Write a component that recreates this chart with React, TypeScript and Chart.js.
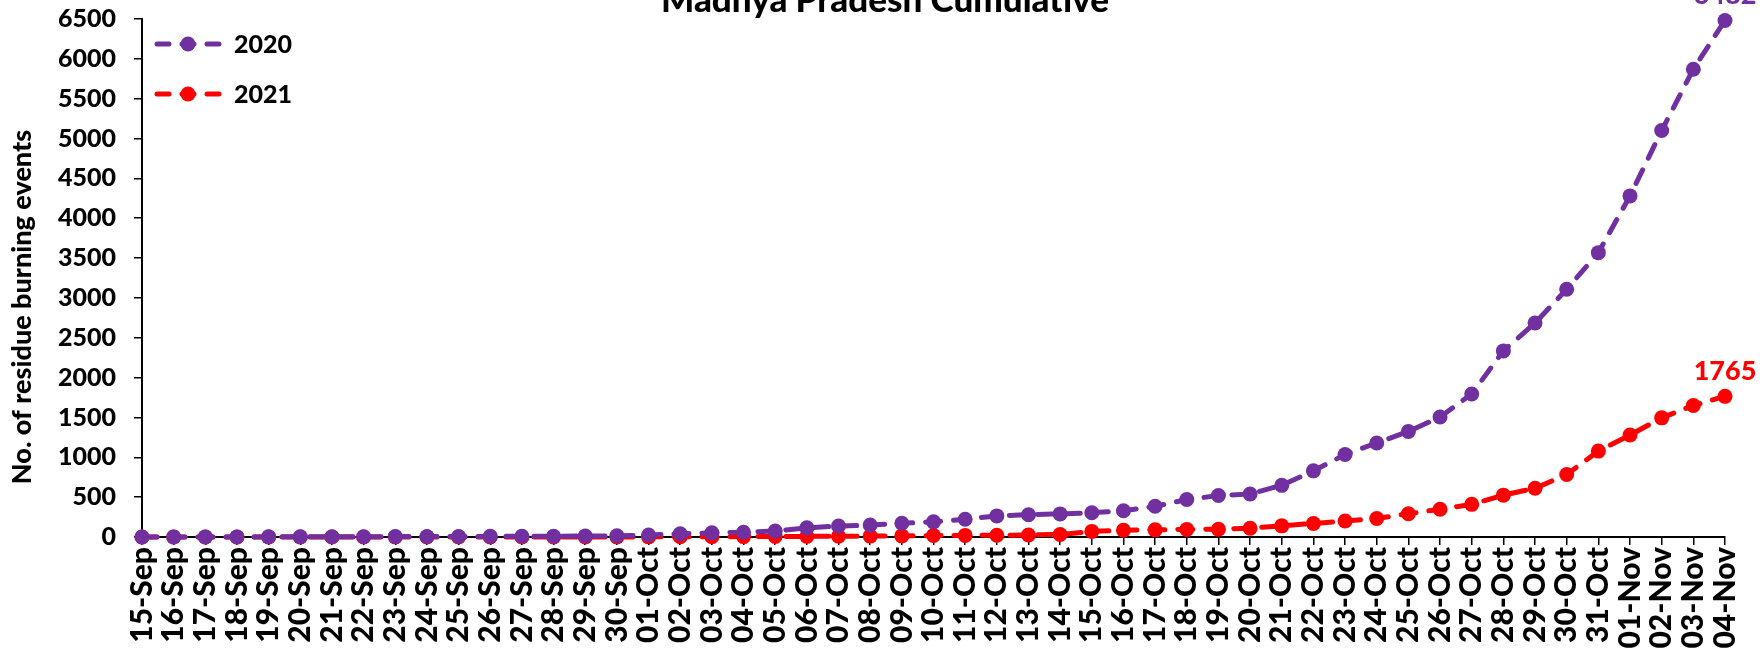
import React, { useEffect, useRef } from "react";
import { Chart, registerables } from "chart.js";

Chart.register(...registerables);

const categories = [
  "15-Sep", "16-Sep", "17-Sep", "18-Sep", "19-Sep", "20-Sep", "21-Sep", "22-Sep",
  "23-Sep", "24-Sep", "25-Sep", "26-Sep", "27-Sep", "28-Sep", "29-Sep", "30-Sep",
  "01-Oct", "02-Oct", "03-Oct", "04-Oct", "05-Oct", "06-Oct", "07-Oct", "08-Oct",
  "09-Oct", "10-Oct", "11-Oct", "12-Oct", "13-Oct", "14-Oct", "15-Oct", "16-Oct",
  "17-Oct", "18-Oct", "19-Oct", "20-Oct", "21-Oct", "22-Oct", "23-Oct", "24-Oct",
  "25-Oct", "26-Oct", "27-Oct", "28-Oct", "29-Oct", "30-Oct", "31-Oct",
  "01-Nov", "02-Nov", "03-Nov", "04-Nov",
];

const values2020 = [
  0, 0, 1, 1, 2, 2, 3, 4, 5, 6, 7, 8, 9, 10, 12, 15,
  25, 40, 52, 60, 75, 115, 138, 150, 172, 190, 222, 265, 280, 290, 305, 330,
  385, 470, 520, 540, 648, 830, 1035, 1180, 1325, 1505, 1795, 2335, 2685, 3108, 3568,
  4280, 5100, 5870, 6482,
];

const values2021 = [
  0, 0, 0, 0, 0, 0, 0, 0, 0, 0, 0, 0, 0, 0, 1, 1,
  2, 3, 4, 5, 6, 8, 9, 11, 14, 18, 20, 22, 25, 32, 70, 85,
  90, 95, 98, 110, 140, 170, 200, 232, 292, 348, 410, 525, 612, 785, 1078,
  1280, 1495, 1650, 1765,
];

const seriesNames = ["2020", "2021"];
const seriesColors = ["#7030A0", "#FF0000"];

const chartTitle = "Madhya Pradesh Cumulative";
const yAxisTitle = "No. of residue burning events";
const yMin = 0;
const yMax = 6500;
const yStep = 500;

const FONT = "Lato, 'Open Sans', sans-serif";
const W = "900";

const decorPlugin = {
  id: "decor",
  afterDatasetsDraw(chart: any) {
    const ctx = chart.ctx;
    ctx.save();
    chart.data.datasets.forEach((ds: any, i: number) => {
      const meta = chart.getDatasetMeta(i);
      const last = meta.data[meta.data.length - 1];
      if (!last) return;
      ctx.fillStyle = ds.borderColor;
      ctx.font = `${W} 27px ${FONT}`;
      ctx.textAlign = "center";
      ctx.textBaseline = "alphabetic";
      ctx.fillText(String(ds.data[ds.data.length - 1]), last.x, last.y - 16);
    });
    ctx.restore();
  },
  afterDraw(chart: any) {
    const ctx = chart.ctx;
    ctx.save();
    ctx.fillStyle = "#000";
    ctx.font = `${W} 35px ${FONT}`;
    ctx.textAlign = "center";
    ctx.textBaseline = "alphabetic";
    ctx.fillText(chartTitle, 885, 12);

    ctx.save();
    ctx.translate(22, 307);
    ctx.rotate(-Math.PI / 2);
    ctx.font = `${W} 27px ${FONT}`;
    ctx.textAlign = "center";
    ctx.textBaseline = "middle";
    ctx.fillText(yAxisTitle, 0, 0);
    ctx.restore();

    chart.data.datasets.forEach((ds: any, i: number) => {
      const y = 44 + i * 50;
      const x0 = 157;
      const x1 = 219;
      ctx.strokeStyle = ds.borderColor;
      ctx.lineWidth = 5;
      ctx.lineCap = "round";
      ctx.setLineDash([12, 13]);
      ctx.beginPath();
      ctx.moveTo(x0, y);
      ctx.lineTo(x1, y);
      ctx.stroke();
      ctx.setLineDash([]);
      ctx.fillStyle = ds.borderColor;
      ctx.beginPath();
      ctx.arc((x0 + x1) / 2, y, 7.5, 0, Math.PI * 2);
      ctx.fill();
      ctx.fillStyle = "#000";
      ctx.font = `${W} 25px ${FONT}`;
      ctx.textAlign = "left";
      ctx.textBaseline = "middle";
      ctx.fillText(ds.label, 234, y + 1);
    });
    ctx.restore();
  },
};

export default function App() {
  const canvasRef = useRef<HTMLCanvasElement | null>(null);

  useEffect(() => {
    if (!canvasRef.current) return;
    const yTickFont = { family: FONT, weight: W as any, size: 25 };
    const xTickFont = { family: FONT, weight: W as any, size: 30 };
    const chart = new Chart(canvasRef.current, {
      type: "line",
      data: {
        labels: categories,
        datasets: [values2020, values2021].map((vals, i) => ({
          label: seriesNames[i],
          data: vals,
          borderColor: seriesColors[i],
          backgroundColor: seriesColors[i],
          pointBackgroundColor: seriesColors[i],
          pointBorderColor: seriesColors[i],
          pointBorderWidth: 0,
          pointRadius: 7.5,
          borderWidth: 5,
          borderDash: [15, 13],
          borderCapStyle: "round" as const,
          tension: 0,
          fill: false,
          clip: false as any,
        })),
      },
      options: {
        responsive: false,
        animation: false,
        layout: { padding: { top: 19, right: 39, left: 0, bottom: 0 } },
        plugins: {
          legend: { display: false },
          title: { display: false },
          tooltip: { enabled: false },
        },
        scales: {
          x: {
            type: "category",
            offset: false,
            grid: {
              display: true,
              drawOnChartArea: false,
              drawTicks: true,
              tickLength: 8,
              color: "#000",
              lineWidth: 1.5,
            },
            border: { display: true, color: "#000", width: 2 },
            ticks: {
              color: "#000",
              font: xTickFont,
              autoSkip: false,
              maxRotation: 90,
              minRotation: 90,
              padding: 2,
            },
            afterFit: (s: any) => {
              s.height = 111;
              s.paddingLeft = 0;
              s.paddingRight = 0;
            },
          },
          y: {
            min: yMin,
            max: yMax,
            grid: {
              display: true,
              drawOnChartArea: false,
              drawTicks: true,
              tickLength: 8,
              color: "#000",
              lineWidth: 1.5,
            },
            border: { display: true, color: "#000", width: 2 },
            ticks: {
              stepSize: yStep,
              color: "#000",
              font: yTickFont,
              padding: 18,
              callback: (v: any) => String(v),
            },
            afterFit: (s: any) => {
              s.width = 142;
              s.paddingTop = 0;
              s.paddingBottom = 0;
            },
          },
        },
      },
      plugins: [decorPlugin],
    });
    return () => chart.destroy();
  }, []);

  return (
    <div style={{ position: "fixed", left: 0, top: 0, width: 1764, height: 648, background: "#fff" }}>
      <canvas ref={canvasRef} width={1764} height={648} />
    </div>
  );
}
